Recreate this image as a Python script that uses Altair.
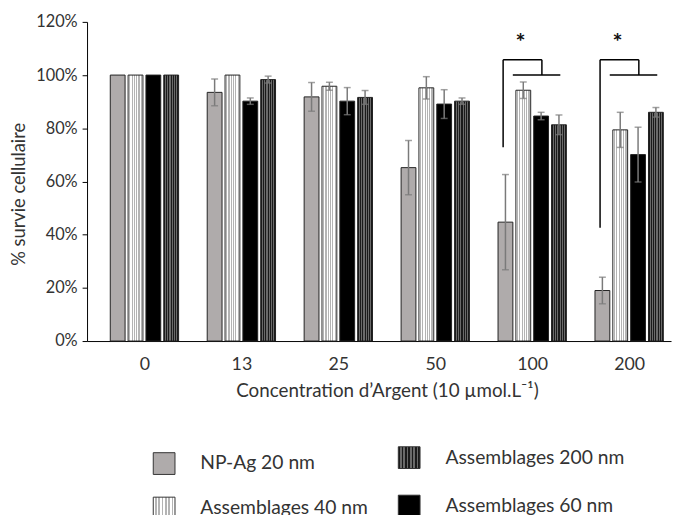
import json
import altair as alt
import pandas as pd

# ---------------- data ----------------
categories = ["0", "13", "25", "50", "100", "200"]
series = ["NP-Ag 20 nm", "Assemblages 40 nm", "Assemblages 60 nm", "Assemblages 200 nm"]

np_ag_20 = [100, 93.5, 91.8, 65.2, 44.7, 19.0]
np_ag_20_err = [0, 5.0, 5.4, 10.2, 17.9, 5.0]
ass_40 = [100, 100, 95.8, 95.2, 94.3, 79.4]
ass_40_err = [0, 0, 1.5, 4.2, 3.1, 6.6]
ass_60 = [100, 90.2, 90.2, 89.1, 84.6, 70.1]
ass_60_err = [0, 1.2, 5.1, 5.4, 1.4, 10.3]
ass_200 = [100, 98.3, 91.6, 90.2, 81.3, 86.0]
ass_200_err = [0, 1.3, 2.6, 1.2, 3.7, 1.8]

sig_categories = ["100", "200"]
sig_left_bottom = [72.9, 42.6]
sig_top = [105.8, 105.8]
sig_low = [100, 100]
sig_star_y = [112, 112]
sig_label = "*"

legend_order = ["NP-Ag 20 nm", "Assemblages 200 nm", "Assemblages 40 nm", "Assemblages 60 nm"]

y_ticks = [0, 20, 40, 60, 80, 100, 120]
y_title = "% survie cellulaire"
x_title = "Concentration d\u2019Argent (10 \u00b5mol.L\u207b\u00b9)"

# ---------------- styles ----------------
FONT = "Lato"
TEXT = "#333333"
BAR_STEP = 0.184   # bar spacing inside a group (group units)
BAR_W = 15


def stripes(c1, c2, n):
    stops = []
    for i in range(n):
        c = c1 if i % 2 == 0 else c2
        stops.append({"offset": i / n, "color": c})
        stops.append({"offset": (i + 1) / n, "color": c})
    return {"gradient": "linear", "x1": 0, "x2": 1, "y1": 0, "y2": 0, "stops": stops}


fills = {
    "NP-Ag 20 nm": "#afabab",
    "Assemblages 40 nm": stripes("#ffffff", "#b4b4b4", 13),
    "Assemblages 60 nm": "#000000",
    "Assemblages 200 nm": stripes("#1a1a1a", "#6a6a6a", 13),
}

values = {
    "NP-Ag 20 nm": (np_ag_20, np_ag_20_err),
    "Assemblages 40 nm": (ass_40, ass_40_err),
    "Assemblages 60 nm": (ass_60, ass_60_err),
    "Assemblages 200 nm": (ass_200, ass_200_err),
}

rows = []
for j, s in enumerate(series):
    v, e = values[s]
    for i, c in enumerate(categories):
        rows.append({
            "cat": c, "series": s,
            "pos": i + (j - 1.5) * BAR_STEP,
            "value": v[i], "err": e[i],
            "lo": v[i] - e[i], "hi": v[i] + e[i],
        })
df = pd.DataFrame(rows)

# significance brackets (group units relative to category center)
seg = []
stars = []
for k, c in enumerate(sig_categories):
    g = categories.index(c)
    L, M, LL, LR = g - 0.30, g + 0.10, g - 0.20, g + 0.29
    seg += [
        {"x": L, "x2": L, "y": sig_left_bottom[k], "y2": sig_top[k]},
        {"x": L, "x2": M, "y": sig_top[k], "y2": sig_top[k]},
        {"x": M, "x2": M, "y": sig_low[k], "y2": sig_top[k]},
        {"x": LL, "x2": LR, "y": sig_low[k], "y2": sig_low[k]},
    ]
    stars.append({"x": g - 0.12, "y": sig_star_y[k], "t": sig_label})
seg_df = pd.DataFrame(seg)
star_df = pd.DataFrame(stars)

label_expr = json.dumps(categories) + "[datum.value]"

x_scale = alt.Scale(domain=[-0.541, 5.381], nice=False, zero=False)
y_scale = alt.Scale(domain=[0, 120], nice=False)

x_axis = alt.Axis(
    values=list(range(len(categories))), labelExpr=label_expr,
    ticks=False, tickSize=0, grid=False, domainColor="#000000", domainWidth=1,
    labelFont=FONT, labelFontSize=18, labelColor=TEXT, labelPadding=15,
    title=x_title, titleFont=FONT, titleFontSize=19, titleFontWeight="normal",
    titleColor=TEXT, titleX=303.5, titleY=50, titleBaseline="middle",
)
y_axis = alt.Axis(
    values=y_ticks, labelExpr="datum.value + '%'",
    grid=False, domainColor="#000000", domainWidth=1, tickColor="#000000", tickSize=5,
    labelFont=FONT, labelFontSize=16.5, labelColor=TEXT, labelPadding=5,
    title=y_title, titleFont=FONT, titleFontSize=18.5, titleFontWeight="normal",
    titleColor=TEXT, titleX=-69, titleY=174, titleBaseline="middle", titleAngle=270,
)


def X(field):
    return alt.X(field, scale=x_scale, axis=x_axis)


def Y(field):
    return alt.Y(field, scale=y_scale, axis=y_axis)


base = alt.Chart(df)
layers = []
for s in series:
    layers.append(
        base.transform_filter(alt.datum.series == s)
        .mark_bar(width=BAR_W, fill=fills[s], stroke="#222222", strokeWidth=1)
        .encode(x=X("pos:Q"), y=Y("value:Q"))
    )

err_base = base.transform_filter(alt.datum.err > 0)
layers.append(
    err_base.mark_rule(color="#7a7a7a", strokeWidth=1.5)
    .encode(x=X("pos:Q"), y=Y("lo:Q"), y2="hi:Q")
)
for f in ["lo", "hi"]:
    layers.append(
        err_base.mark_tick(color="#7a7a7a", orient="horizontal", size=7, thickness=1.5)
        .encode(x=X("pos:Q"), y=Y(f + ":Q"))
    )

layers.append(
    alt.Chart(seg_df).mark_rule(color="#000000", strokeWidth=1.5)
    .encode(x=X("x:Q"), x2="x2:Q", y=Y("y:Q"), y2="y2:Q")
)
layers.append(
    alt.Chart(star_df).mark_text(font=FONT, fontSize=24, fontWeight="bold",
                                 color="#111111", baseline="middle", align="center")
    .encode(x=X("x:Q"), y=Y("y:Q"), text="t:N")
)

# ---------------- legend (2 x 2, below the axis title) ----------------
leg_sym_x = [78, 326]
leg_text_x = [114.5, 362.7]
leg_y = [[447, 441], [492, 490]]
for n, s in enumerate(legend_order):
    r, c = divmod(n, 2)
    ldf = pd.DataFrame({"label": [s]})
    layers.append(
        alt.Chart(ldf).mark_square(size=484, fill=fills[s], stroke="#333333",
                                   strokeWidth=1, opacity=1)
        .encode(x=alt.value(leg_sym_x[c]), y=alt.value(leg_y[r][c]))
    )
    layers.append(
        alt.Chart(ldf).mark_text(font=FONT, fontSize=19.5, color=TEXT,
                                 align="left", baseline="middle")
        .encode(x=alt.value(leg_text_x[c]), y=alt.value(leg_y[r][c]), text="label:N")
    )

chart = (
    alt.layer(*layers)
    .properties(
        width=591, height=323,
        autosize=alt.AutoSizeParams(type="none"),
        padding={"left": 80, "top": 11, "right": 2, "bottom": 173},
        background="#ffffff",
    )
    .configure_view(stroke=None)
)

chart.save("out.html", embed_options={"renderer": "svg", "actions": False})
